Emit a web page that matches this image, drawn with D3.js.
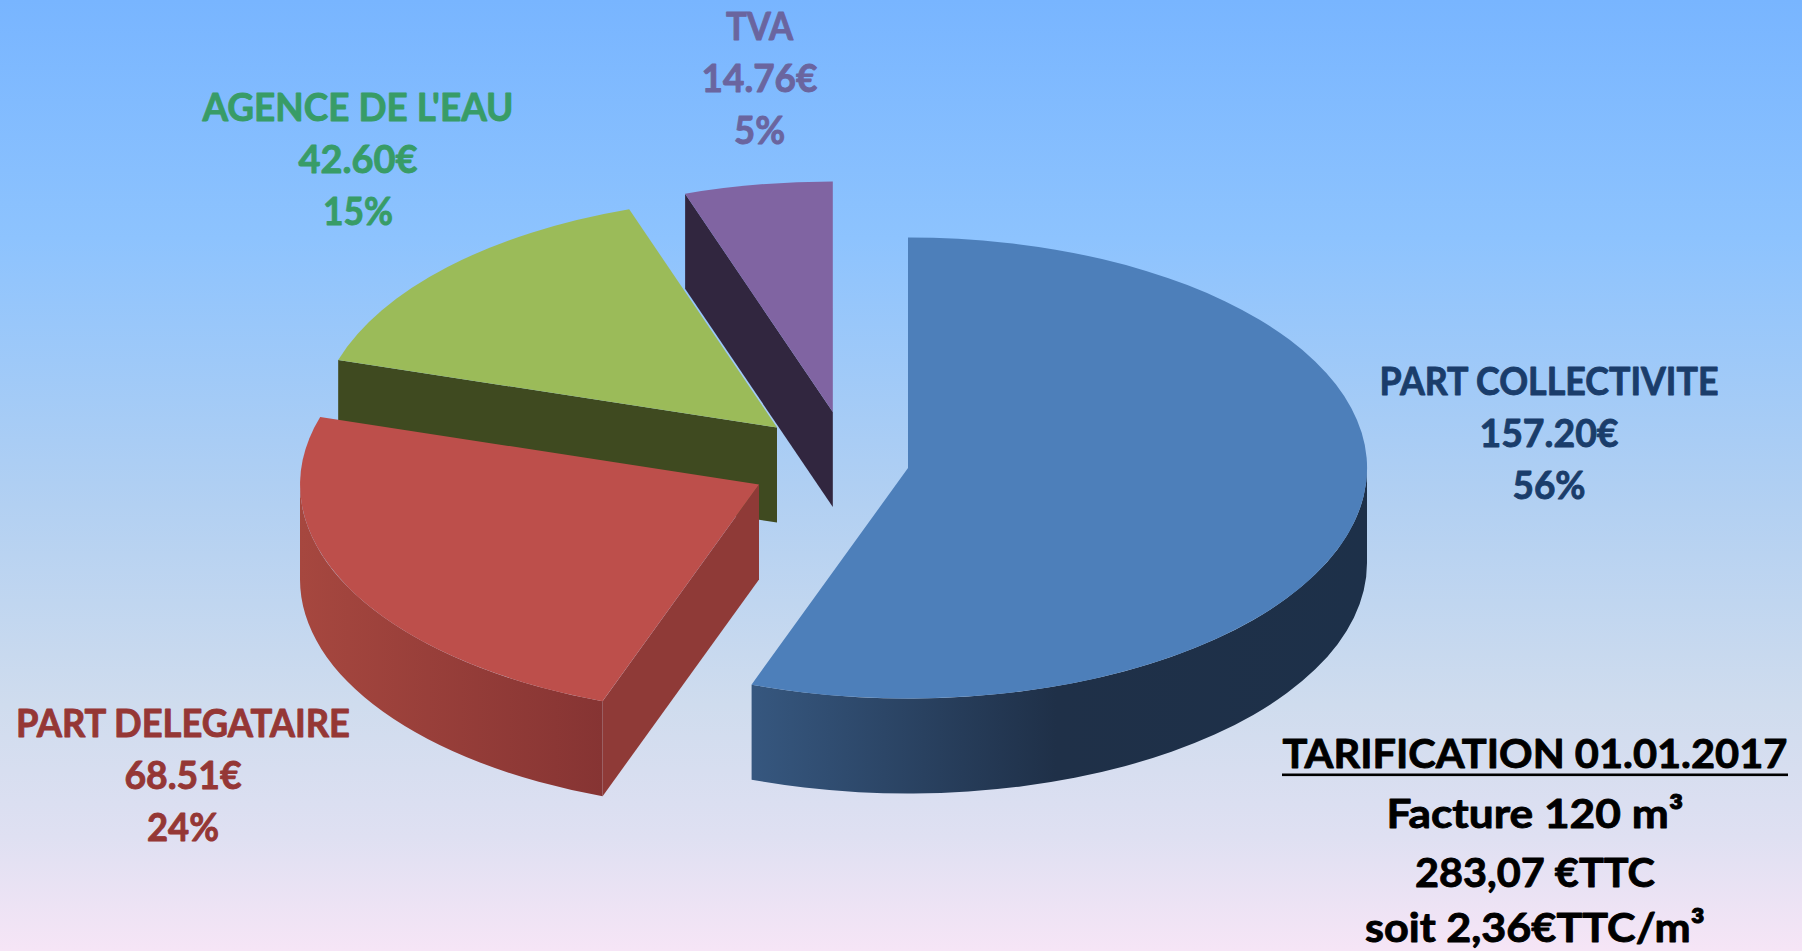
<!DOCTYPE html>
<html lang="fr">
<head>
<meta charset="utf-8">
<script src="https://cdn.jsdelivr.net/npm/d3@7/dist/d3.min.js"></script>
<style>
html,body{margin:0;padding:0;background:#fff;overflow:hidden}
svg{display:block}
text{font-family:"Lato","Open Sans",sans-serif;font-weight:700;text-anchor:middle;stroke-linejoin:round}
</style>
</head>
<body>
<svg id="chart" width="1802" height="951"></svg>
<script>
// --- data ---
const categories = ["PART COLLECTIVITE", "PART DELEGATAIRE", "AGENCE DE L'EAU", "TVA"];
const amounts = [157.20, 68.51, 42.60, 14.76];
const percentLabels = ["56%", "24%", "15%", "5%"];
const summaryLines = ["TARIFICATION 01.01.2017", "Facture 120 m³", "283,07 €TTC", "soit 2,36€TTC/m³"];

// --- styling / layout ---
const topColors = ["#4d7fba", "#bd4f4b", "#9bbb59", "#8064a2"];
const cutColors = [null, "#8f3a37", "#3f4a20", "#31263f"];
const wallGradients = [
  [[752, "#36577f"], [1056, "#1f3048"], [1367, "#1d3049"]],
  [[301, "#a6473f"], [603, "#863433"]],
  null, null
];
const textColors = ["#1a3d6b", "#953735", "#389c67", "#6a659f"];
const apexes = [[908, 468], [759, 484.5], [777, 427.5], [832.8, 412]];
const labelCenters = [[1549, 394.5], [183, 737], [358, 121], [759.5, 39.5]];
const labelWidths = [[340, 140, 74], [335, 118, 73], [312, 120, 71], [68, 117, 52]];
const lineGap = 52;
const rx = 459, ry = 230.5, depth = 95;
const labelFont = 38;
const summaryCenter = 1535, summaryBaselines = [767.5, 827.5, 886.5, 942];
const summaryWidths = [506, 298, 241, 341];
const summaryFont = 41;
const boldStroke = 0.9;

const W = 1802, H = 951;
const svg = d3.select("#chart");
const defs = svg.append("defs");

const bg = defs.append("linearGradient").attr("id", "bg").attr("x1", 0).attr("y1", 0).attr("x2", 0).attr("y2", 1);
[[0, "#78b5ff"], [0.25, "#8dc3fe"], [0.53, "#b2d0f2"], [0.74, "#cfdcee"], [0.88, "#dfe0f2"], [1, "#f6e5f6"]]
  .forEach(([o, c]) => bg.append("stop").attr("offset", o).attr("stop-color", c));
svg.append("rect").attr("width", W).attr("height", H).attr("fill", "url(#bg)");

wallGradients.forEach((stops, i) => {
  if (!stops) return;
  const x = d3.scaleLinear().domain([stops[0][0], stops[stops.length - 1][0]]).range([0, 1]);
  const g = defs.append("linearGradient").attr("id", "wall" + i).attr("gradientUnits", "userSpaceOnUse")
    .attr("x1", stops[0][0]).attr("x2", stops[stops.length - 1][0]).attr("y1", 0).attr("y2", 0);
  stops.forEach(([v, c]) => g.append("stop").attr("offset", x(v)).attr("stop-color", c));
});

const pie = d3.pie().sort(null).startAngle(0).endAngle(2 * Math.PI);
const slices = pie(amounts);
const unitArc = d3.arc().innerRadius(0).outerRadius(1);
const px = (a, t) => a[0] + rx * Math.sin(t);
const py = (a, t) => a[1] - ry * Math.cos(t);

// draw back to front: TVA, agence, délégataire, collectivité
[3, 2, 1, 0].forEach(i => {
  const s = slices[i], a = apexes[i];
  const g = svg.append("g");
  if (cutColors[i]) {
    const x1 = px(a, s.startAngle), y1 = py(a, s.startAngle);
    g.append("path").attr("fill", cutColors[i])
      .attr("d", `M${a[0]},${a[1]}L${x1},${y1}L${x1},${y1 + depth}L${a[0]},${a[1] + depth}Z`);
  }
  const t0 = Math.max(s.startAngle, Math.PI / 2), t1 = Math.min(s.endAngle, 3 * Math.PI / 2);
  if (t1 > t0) {
    const [x0, y0, x1, y1] = [px(a, t0), py(a, t0), px(a, t1), py(a, t1)];
    g.append("path").attr("fill", `url(#wall${i})`)
      .attr("d", `M${x0},${y0}A${rx},${ry} 0 0 1 ${x1},${y1}L${x1},${y1 + depth}A${rx},${ry} 0 0 0 ${x0},${y0 + depth}Z`);
  }
  g.append("path").attr("fill", topColors[i])
    .attr("transform", `translate(${a[0]},${a[1]}) scale(${rx},${ry})`)
    .attr("d", unitArc(s));
});

// text fitted horizontally to the width it has in the picture
function fitted(t, cx, y, size, color, width) {
  const el = svg.append("text").attr("font-size", size).attr("fill", color)
    .attr("stroke", color).attr("stroke-width", boldStroke).text(t);
  const natural = el.node().getComputedTextLength();
  el.attr("transform", `translate(${cx},${y}) scale(${(width - boldStroke) / natural},1)`);
}

categories.forEach((c, i) => {
  const [cx, y0] = labelCenters[i];
  [c, amounts[i].toFixed(2) + "€", percentLabels[i]].forEach((t, k) =>
    fitted(t, cx, y0 + k * lineGap, labelFont, textColors[i], labelWidths[i][k]));
});

summaryLines.forEach((t, k) =>
  fitted(t, summaryCenter, summaryBaselines[k], summaryFont, "#000", summaryWidths[k]));
svg.append("rect").attr("x", 1282).attr("y", 773.5).attr("width", 506).attr("height", 2.6).attr("fill", "#000");
</script>
</body>
</html>
